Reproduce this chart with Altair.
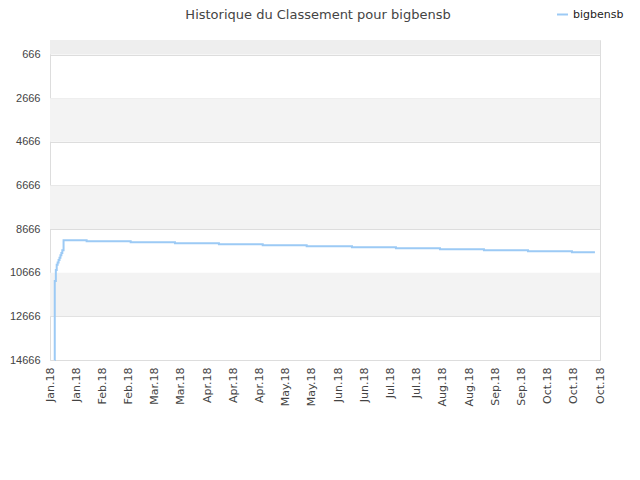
import altair as alt
import pandas as pd

# ---- data ----
dates = [
    "2018-01-10T12:00", "2018-01-10T13:00", "2018-01-11T03:00", "2018-01-11T14:00",
    "2018-01-12T02:00", "2018-01-12T14:00", "2018-01-13T02:00", "2018-01-13T14:00",
    "2018-01-14T02:00", "2018-01-14T14:00", "2018-01-15T06:00",
    "2018-01-27T14:00", "2018-02-20T03:00", "2018-03-15T19:00", "2018-04-08T07:00",
    "2018-05-01T17:00", "2018-05-25T05:00", "2018-06-18T10:00", "2018-07-11T22:00",
    "2018-08-04T11:00", "2018-08-27T23:00", "2018-09-20T12:00", "2018-10-14T00:00",
    "2018-10-26T07:00",
]
ranks = [
    14666, 11040, 10540, 10300,
    10200, 10080, 9980, 9860,
    9760, 9640, 9180,
    9226, 9272, 9318, 9364,
    9410, 9456, 9502, 9548,
    9594, 9640, 9686, 9732,
    9732,
]
series_name = "bigbensb"

y_ticks = [666, 2666, 4666, 6666, 8666, 10666, 12666, 14666]
x_ticks = [
    "2018-01-08", "2018-01-22", "2018-02-05", "2018-02-19", "2018-03-05", "2018-03-19",
    "2018-04-02", "2018-04-16", "2018-04-30", "2018-05-14", "2018-05-28", "2018-06-11",
    "2018-06-25", "2018-07-09", "2018-07-23", "2018-08-06", "2018-08-20", "2018-09-03",
    "2018-09-17", "2018-10-01", "2018-10-15", "2018-10-29",
]
top_band = [(0, 666)]
gray_bands = [(2666, 4666), (6666, 8666), (10666, 12666)]

# ---- tables ----
df = pd.DataFrame({"date": pd.to_datetime(dates), "rank": ranks, "series": series_name})
top_df = pd.DataFrame(top_band, columns=["y0", "y1"])
gray_df = pd.DataFrame(gray_bands, columns=["y0", "y1"])

x_dt = [alt.DateTime(year=int(d[0:4]), month=int(d[5:7]), date=int(d[8:10])) for d in x_ticks]

y_scale = alt.Scale(domain=[0, 14666], reverse=True, nice=False, zero=False)
x_scale = alt.Scale(domain=[alt.DateTime(year=2018, month=1, date=8),
                            alt.DateTime(year=2018, month=10, date=29)], nice=False)

top_rect = alt.Chart(top_df).mark_rect(color="#eeeeee").encode(
    x=alt.value(0), x2=alt.value(550),
    y=alt.Y("y0:Q", scale=y_scale), y2="y1:Q",
)
gray_rect = alt.Chart(gray_df).mark_rect(color="#f3f3f3").encode(
    x=alt.value(0), x2=alt.value(550),
    y=alt.Y("y0:Q", scale=y_scale), y2="y1:Q",
)

line = alt.Chart(df).mark_line(interpolate="step-after", strokeWidth=2).encode(
    x=alt.X("date:T", scale=x_scale, title=None,
            axis=alt.Axis(values=x_dt, format="%b.%y", labelAngle=-90, labelAlign="right",
                          labelBaseline="middle", labelPadding=7, ticks=False, domain=False,
                          grid=False, labelFontSize=11, labelColor="#444444",
                          labelFont="DejaVu Sans", labelOverlap=False, labelFlush=False)),
    y=alt.Y("rank:Q", scale=y_scale, title=None,
            axis=alt.Axis(values=y_ticks, format="d", ticks=False, domain=False, grid=True,
                          gridColor="#dddddd", labelPadding=10, labelFontSize=11,
                          labelColor="#444444", labelFont="Liberation Sans")),
    color=alt.Color("series:N", scale=alt.Scale(range=["#9ccaf5"]),
                    legend=alt.Legend(orient="none", legendX=506, legendY=-32, title=None,
                                      symbolType="stroke", symbolStrokeWidth=2, symbolSize=120,
                                      labelFontSize=11, labelFont="DejaVu Sans",
                                      labelColor="#222222")),
)

title = alt.Chart(pd.DataFrame({"t": ["Historique du Classement pour bigbensb"]})).mark_text(
    fontSize=13, font="DejaVu Sans", color="#444444", align="center", baseline="middle"
).encode(text="t:N", x=alt.value(268), y=alt.value(-25))

chart = alt.layer(top_rect, gray_rect, line, title).properties(
    width=550, height=320,
    autosize=alt.AutoSizeParams(type="none"),
    padding={"left": 42, "top": 32, "right": 32, "bottom": 112},
).configure_view(stroke="#dddddd")

chart.save("out.html", embed_options={"renderer": "svg", "actions": False})
